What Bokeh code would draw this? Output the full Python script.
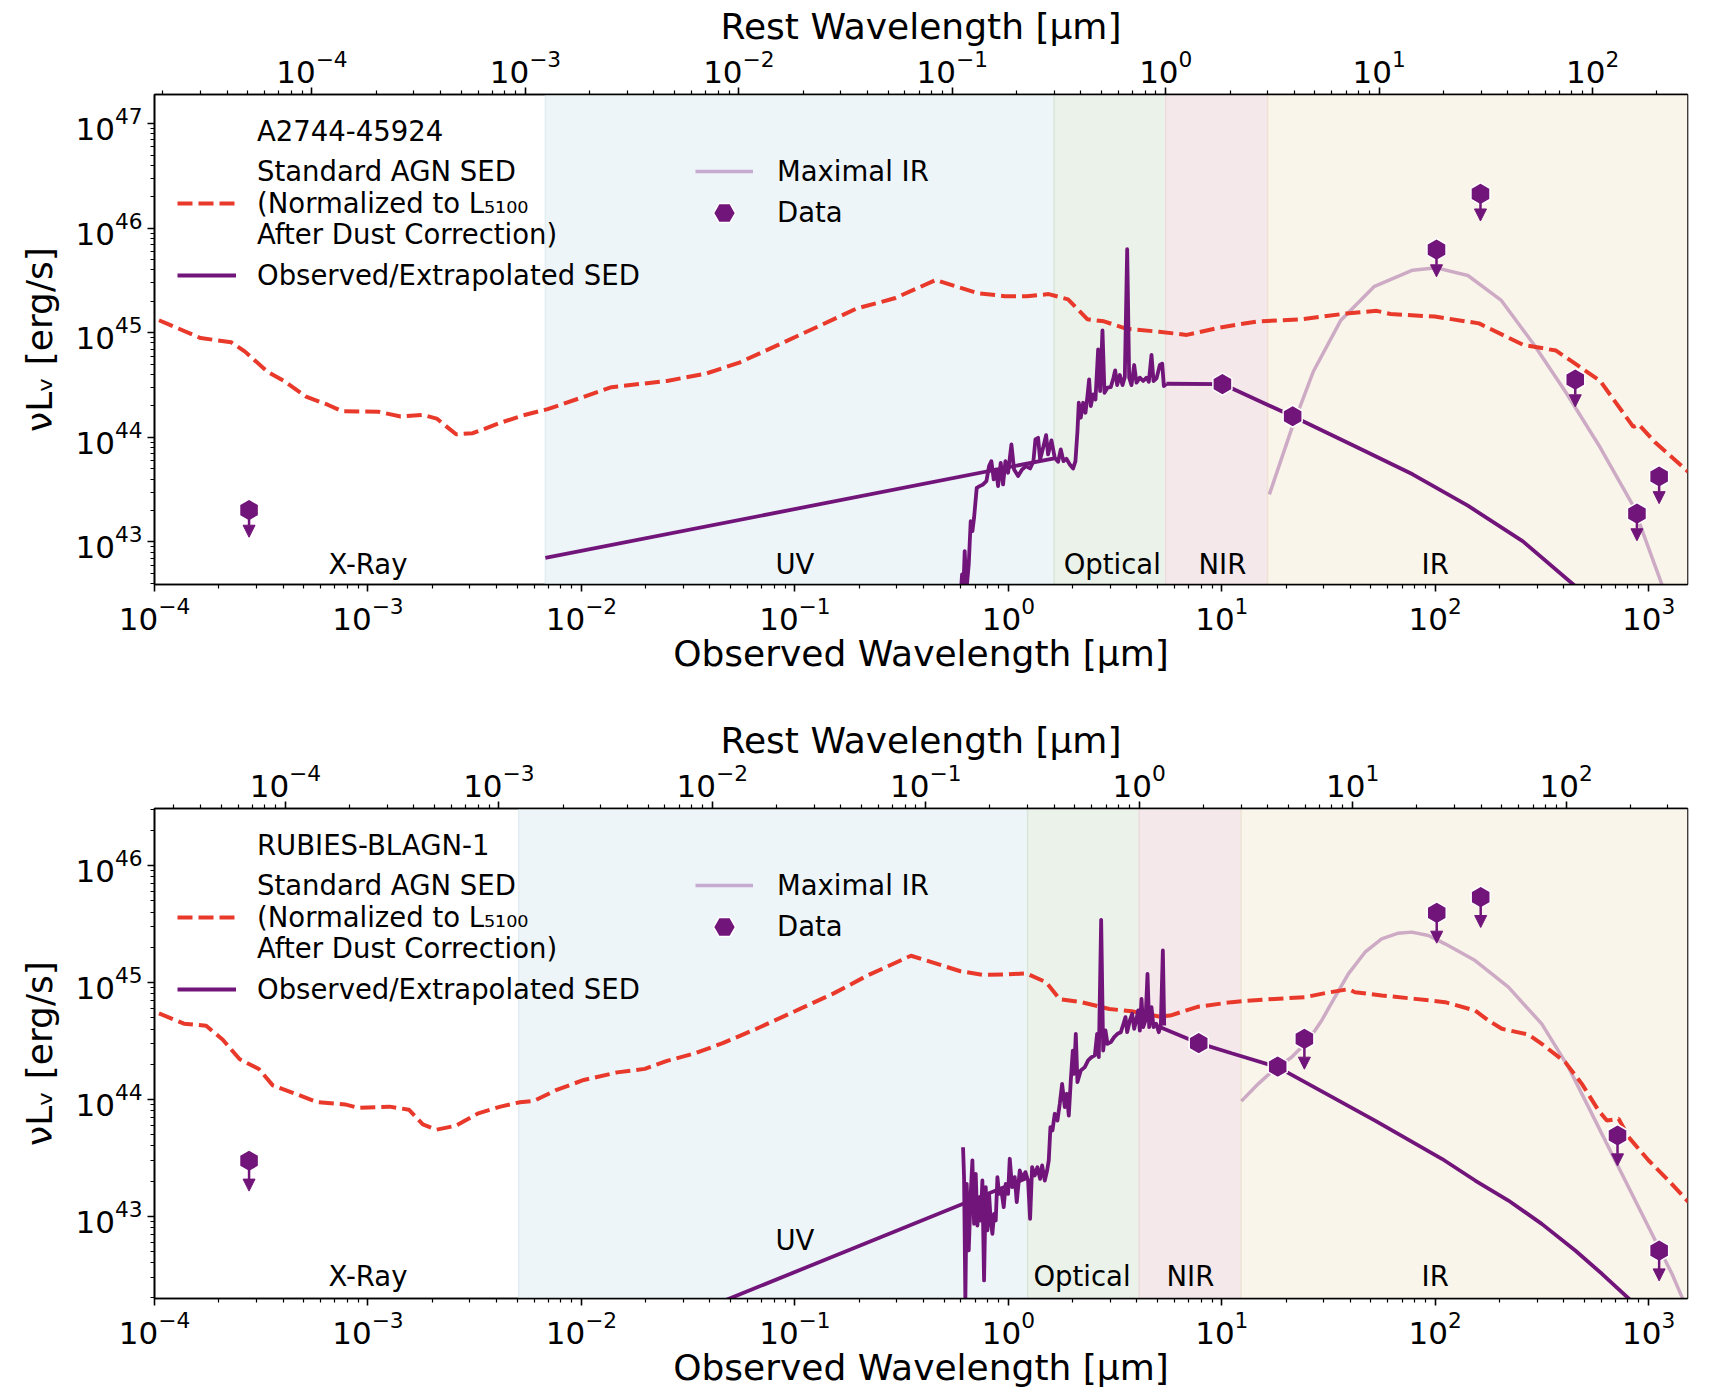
import math
from bokeh.plotting import figure
from bokeh.layouts import column
from bokeh.models import (Range1d, LogScale, LogAxis, FixedTicker, LogTickFormatter,
                          BoxAnnotation, Span, Legend, LegendItem, ColumnDataSource, Arrow, NormalHead)
from bokeh.core.properties import value
from bokeh.embed import file_html
from bokeh.resources import INLINE

# ------------------------------------------------------------------ data
# all series are (log10 observed wavelength [um], log10 nuL_nu [erg/s])
X_RANGE = (1e-4, 1520.0)
X_TICK_EXP = [-4, -3, -2, -1, 0, 1, 2, 3]
REST_TICK_EXP = [-5, -4, -3, -2, -1, 0, 1, 2, 3]
Y_TICK_EXP = [42, 43, 44, 45, 46, 47, 48]
MINOR_MANTISSA = [2, 3, 4, 5, 6, 7, 8, 9]

REGION_NAMES = ["X-Ray", "UV", "Optical", "NIR", "IR"]
REGION_EDGES_REST = [1.24e-3, 0.3, 1.0, 3.0]   # rest-frame um: X-ray|UV|Optical|NIR|IR

# ---- panel A : A2744-45924
A_NAME = "A2744-45924"
A_Z = 4.465
A_Y_RANGE = (3.92e42, 1.9e47)
A_LABEL_LOGX = [-3.0, -1.0, 0.487, 1.003, 2.0]
A_LABEL_LOGY = [42.79, 42.79, 42.79, 42.79, 42.79]
A_AGN = [(-3.979, 45.12), (-3.784, 44.95), (-3.641, 44.91), (-3.576, 44.82), (-3.472, 44.63),
         (-3.394, 44.54), (-3.290, 44.39), (-3.186, 44.31), (-3.120, 44.25), (-2.951, 44.245),
         (-2.847, 44.20), (-2.744, 44.215), (-2.678, 44.18), (-2.587, 44.03), (-2.509, 44.04),
         (-2.379, 44.14), (-2.275, 44.21), (-2.158, 44.27), (-2.015, 44.37), (-1.859, 44.48),
         (-1.599, 44.54), (-1.416, 44.61), (-1.260, 44.715), (-1.078, 44.885), (-0.870, 45.08),
         (-0.714, 45.23), (-0.533, 45.33), (-0.340, 45.505), (-0.146, 45.38), (-0.017, 45.35),
         (0.086, 45.35), (0.189, 45.37), (0.280, 45.32), (0.370, 45.13), (0.448, 45.11),
         (0.551, 45.04), (0.706, 45.01), (0.836, 44.98), (0.990, 45.05), (1.171, 45.11),
         (1.378, 45.13), (1.584, 45.185), (1.726, 45.21), (1.791, 45.18), (1.998, 45.155),
         (2.205, 45.09), (2.411, 44.886), (2.566, 44.83), (2.773, 44.54), (2.928, 44.10),
         (2.953, 44.125), (3.031, 43.95), (3.186, 43.67)]
A_UV = [(-2.169, 42.848), (0.215, 43.80)]
A_SPEC = [(-0.2230, 42.497), (-0.2168, 42.689), (-0.2105, 42.561), (-0.2043, 42.912), (-0.1965, 42.529),
          (-0.1855, 42.784), (-0.1762, 43.199), (-0.1683, 43.103), (-0.1605, 43.231), (-0.1480, 43.518),
          (-0.1340, 43.534), (-0.1183, 43.550), (-0.1027, 43.582), (-0.0902, 43.725), (-0.0793, 43.773),
          (-0.0683, 43.598), (-0.0574, 43.693), (-0.0480, 43.534), (-0.0355, 43.757), (-0.0246, 43.550),
          (-0.0136, 43.773), (-0.0011, 43.662), (0.0145, 43.933), (0.0270, 43.693), (0.0458, 43.630),
          (0.0645, 43.693), (0.0832, 43.725), (0.1020, 43.703), (0.1176, 43.773), (0.1270, 43.980),
          (0.1395, 43.996), (0.1489, 43.789), (0.1630, 43.901), (0.1770, 44.022), (0.1864, 43.837),
          (0.2020, 43.971), (0.2176, 43.805), (0.2333, 43.767), (0.2458, 43.885), (0.2583, 43.773),
          (0.2723, 43.795), (0.2880, 43.741), (0.3036, 43.703), (0.3145, 43.773), (0.3239, 44.060),
          (0.3302, 44.331), (0.3395, 44.188), (0.3505, 44.331), (0.3614, 44.236), (0.3708, 44.395),
          (0.3786, 44.555), (0.3864, 44.300), (0.3974, 44.411), (0.4083, 44.363), (0.4208, 44.842),
          (0.4302, 44.443), (0.4411, 45.023), (0.4505, 44.427), (0.4646, 44.475), (0.4802, 44.481),
          (0.4927, 44.571), (0.5005, 44.641), (0.5099, 44.500), (0.5224, 44.596), (0.5349, 44.500),
          (0.5458, 44.577), (0.5568, 45.799), (0.5662, 44.571), (0.5771, 44.500), (0.5896, 44.692),
          (0.6005, 44.523), (0.6161, 44.571), (0.6318, 44.539), (0.6474, 44.571), (0.6583, 44.532),
          (0.6708, 44.788), (0.6802, 44.539), (0.6943, 44.564), (0.7099, 44.692), (0.7209, 44.704),
          (0.7287, 44.491), (0.7412, 44.513)]
A_EXT = [(0.741, 44.513), (1.003, 44.51), (1.332, 44.202), (1.636, 43.903), (1.894, 43.647),
         (2.153, 43.347), (2.411, 43.006), (2.643, 42.60), (2.75, 42.41)]
A_MAXIR = [(1.223, 43.455), (1.326, 44.074), (1.429, 44.63), (1.558, 45.121), (1.713, 45.441),
           (1.894, 45.599), (2.006, 45.621), (2.153, 45.548), (2.308, 45.313), (2.463, 44.886),
           (2.617, 44.415), (2.773, 43.903), (2.927, 43.347), (3.057, 42.621), (3.085, 42.45)]
A_DET = [(1.003, 44.51), (1.332, 44.202)]
A_UL = [(-3.557, 43.305), (2.006, 45.795), (2.212, 46.329), (2.656, 44.552), (2.945, 43.271),
        (3.049, 43.626)]

# ---- panel B : RUBIES-BLAGN-1
B_NAME = "RUBIES-BLAGN-1"
B_Z = 3.1034
B_Y_RANGE = (1.98e42, 3.08e46)
B_LABEL_LOGX = [-3.0, -1.0, 0.345, 0.853, 2.0]
B_LABEL_LOGY = [42.49, 42.80, 42.49, 42.49, 42.49]
B_AGN = [(-3.979, 44.736), (-3.862, 44.648), (-3.758, 44.63), (-3.680, 44.51), (-3.602, 44.345),
         (-3.511, 44.26), (-3.446, 44.12), (-3.342, 44.05), (-3.238, 43.976), (-3.107, 43.957),
         (-3.043, 43.927), (-2.899, 43.938), (-2.808, 43.912), (-2.743, 43.786), (-2.678, 43.741),
         (-2.587, 43.775), (-2.483, 43.881), (-2.379, 43.938), (-2.288, 43.976), (-2.223, 43.987),
         (-2.119, 44.079), (-1.989, 44.166), (-1.833, 44.231), (-1.703, 44.261), (-1.599, 44.329),
         (-1.469, 44.394), (-1.338, 44.481), (-1.182, 44.602), (-1.000, 44.754), (-0.818, 44.907),
         (-0.662, 45.058), (-0.456, 45.229), (-0.224, 45.096), (-0.120, 45.066), (-0.017, 45.069),
         (0.086, 45.077), (0.177, 45.002), (0.241, 44.857), (0.345, 44.831), (0.474, 44.773),
         (0.578, 44.754), (0.706, 44.709), (0.758, 44.717), (0.887, 44.792), (1.046, 44.832),
         (1.202, 44.855), (1.390, 44.874), (1.484, 44.909), (1.593, 44.943), (1.624, 44.917),
         (1.749, 44.889), (1.905, 44.860), (2.046, 44.832), (2.187, 44.760), (2.249, 44.675),
         (2.312, 44.604), (2.437, 44.555), (2.499, 44.475), (2.609, 44.319), (2.687, 44.133),
         (2.765, 43.905), (2.804, 43.819), (2.859, 43.834), (2.906, 43.677), (3.000, 43.477),
         (3.093, 43.306), (3.187, 43.121)]
B_UV = [(-1.45, 42.19), (0.090, 43.33)]
B_SPEC = [(-0.2121, 43.591), (-0.2074, 43.335), (-0.2012, 42.280), (-0.1949, 43.278), (-0.1855, 42.708),
          (-0.1762, 43.192), (-0.1683, 43.478), (-0.1605, 42.936), (-0.1527, 43.363), (-0.1449, 42.921),
          (-0.1371, 43.135), (-0.1293, 42.964), (-0.1215, 43.306), (-0.1137, 42.451), (-0.1058, 43.249),
          (-0.0980, 42.879), (-0.0902, 43.192), (-0.0824, 42.964), (-0.0746, 42.850), (-0.0668, 43.021),
          (-0.0590, 42.964), (-0.0511, 43.335), (-0.0433, 43.192), (-0.0324, 43.221), (-0.0215, 43.078),
          (-0.0121, 43.278), (-0.0011, 43.192), (0.0067, 43.492), (0.0176, 43.249), (0.0301, 43.335),
          (0.0395, 43.121), (0.0536, 43.392), (0.0661, 43.320), (0.0801, 43.378), (0.0926, 43.306),
          (0.1020, 42.978), (0.1114, 43.420), (0.1239, 43.349), (0.1364, 43.420), (0.1489, 43.320),
          (0.1583, 43.435), (0.1708, 43.306), (0.1817, 43.392), (0.1895, 43.478), (0.1973, 43.763),
          (0.2067, 43.734), (0.2176, 43.877), (0.2301, 43.820), (0.2411, 43.962), (0.2520, 44.133),
          (0.2645, 43.934), (0.2739, 44.048), (0.2833, 43.862), (0.2927, 44.162), (0.3020, 44.418),
          (0.3083, 44.219), (0.3161, 44.561), (0.3239, 44.148), (0.3395, 44.247), (0.3583, 44.276),
          (0.3739, 44.333), (0.3896, 44.361), (0.4052, 44.376), (0.4161, 44.561), (0.4239, 44.361),
          (0.4349, 45.536), (0.4443, 44.418), (0.4552, 44.590), (0.4646, 44.475), (0.4802, 44.490),
          (0.4958, 44.533), (0.5114, 44.561), (0.5271, 44.575), (0.5396, 44.647), (0.5490, 44.704),
          (0.5568, 44.575), (0.5693, 44.675), (0.5802, 44.732), (0.5896, 44.604), (0.6005, 44.689),
          (0.6083, 44.761), (0.6161, 44.589), (0.6240, 44.860), (0.6318, 44.618), (0.6427, 44.675),
          (0.6521, 45.074), (0.6599, 44.618), (0.6708, 44.789), (0.6802, 44.618), (0.6927, 44.647),
          (0.7052, 44.575), (0.7146, 44.647), (0.7240, 45.274), (0.7303, 44.632)]
B_EXT = [(0.706, 44.622), (0.892, 44.481), (1.046, 44.395), (1.262, 44.276), (1.718, 43.819),
         (2.031, 43.492), (2.187, 43.306), (2.343, 43.135), (2.499, 42.935), (2.656, 42.707),
         (2.781, 42.508), (2.906, 42.297), (2.96, 42.20)]
B_MAXIR = [(1.092, 43.985), (1.171, 44.133), (1.249, 44.262), (1.327, 44.361), (1.405, 44.504),
           (1.468, 44.675), (1.530, 44.875), (1.593, 45.074), (1.671, 45.259), (1.749, 45.373),
           (1.827, 45.422), (1.890, 45.431), (1.968, 45.402), (2.046, 45.331), (2.187, 45.188),
           (2.343, 44.960), (2.499, 44.646), (2.624, 44.276), (2.734, 43.876), (2.843, 43.477),
           (2.937, 43.135), (3.031, 42.793), (3.109, 42.508), (3.156, 42.308), (3.175, 42.22)]
B_DET = [(0.892, 44.481), (1.262, 44.281)]
B_UL = [(-3.557, 43.475), (1.387, 44.518), (2.007, 45.596), (2.213, 45.730), (2.854, 43.691),
        (3.049, 42.707)]

# ------------------------------------------------------------------ style
FONT = "DejaVu Sans"
PURPLE = "#72157a"
RED = "#e8392b"
LIGHT_ALPHA = 0.33
REGION_FILLS = ["#eef5f9", "#ebf2ea", "#f4e8ea", "#faf5eb"]
REGION_EDGE_COLORS = ["#e2edf2", "#dbe5d9", "#ecdcdf", "#efe4d3"]
ARROW_FRAC = 0.55
FRAME_H = 490
LEG_FONT = "27.5px"


def unzip(pairs):
    return [10 ** a for a, _ in pairs], [10 ** b for _, b in pairs]


def ticker(exps):
    return FixedTicker(ticks=[10.0 ** e for e in exps],
                       minor_ticks=[m * 10.0 ** e for e in exps for m in MINOR_MANTISSA])


def style_axis(ax, label_standoff):
    ax.axis_line_width = 1.6
    ax.axis_line_color = "black"
    ax.major_tick_line_width = 1.6
    ax.minor_tick_line_width = 1.2
    ax.major_tick_line_color = "black"
    ax.minor_tick_line_color = "black"
    ax.major_tick_out = 7
    ax.major_tick_in = 0
    ax.minor_tick_out = 4
    ax.minor_tick_in = 0
    ax.major_label_standoff = 5
    ax.major_label_text_font = FONT
    ax.major_label_text_font_size = "31px"
    ax.major_label_text_color = "black"
    ax.axis_label_text_font = FONT
    ax.axis_label_text_font_size = "36px"
    ax.axis_label_text_font_style = "normal"
    ax.axis_label_text_color = "black"
    ax.axis_label_standoff = label_standoff
    ax.formatter = LogTickFormatter()


def legend_row(p, label, renderer, x, center, glyph_w, standoff, gh):
    leg = Legend(items=[LegendItem(label=value(label), renderers=[renderer])],
                 location=(x, FRAME_H - center - gh / 2),
                 padding=0, margin=0, spacing=0,
                 glyph_width=glyph_w, glyph_height=gh, label_height=gh, label_width=10,
                 label_standoff=standoff,
                 label_text_font=FONT, label_text_font_size=LEG_FONT, label_text_color="black",
                 border_line_alpha=0, background_fill_alpha=0)
    p.add_layout(leg)


def make_panel(name, z, y_range, label_logx, label_logy, agn, uv, spec, ext, maxir, det, ul,
               border_top, border_bottom):
    p = figure(width=1724, height=698, x_axis_type="log", y_axis_type="log",
               x_range=Range1d(*X_RANGE), y_range=Range1d(*y_range),
               output_backend="svg", toolbar_location=None,
               min_border_left=154, min_border_right=37,
               min_border_top=border_top, min_border_bottom=border_bottom,
               background_fill_color="white", border_fill_color="white")
    p.xgrid.visible = False
    p.ygrid.visible = False
    p.outline_line_color = "black"
    p.outline_line_width = 1.6
    p.outline_line_alpha = 1.0

    # axes
    xa = p.xaxis[0]
    xa.ticker = ticker(X_TICK_EXP)
    xa.axis_label = "Observed Wavelength [μm]"
    style_axis(xa, 0)
    ya = p.yaxis[0]
    ya.ticker = ticker(Y_TICK_EXP)
    ya.axis_label = "νLᵥ [erg/s]"
    style_axis(ya, 12)

    p.extra_x_ranges = {"rest": Range1d(X_RANGE[0] / (1 + z), X_RANGE[1] / (1 + z))}
    p.extra_x_scales = {"rest": LogScale()}
    ta = LogAxis(x_range_name="rest", axis_label="Rest Wavelength [μm]")
    ta.ticker = ticker(REST_TICK_EXP)
    style_axis(ta, 0)
    p.add_layout(ta, "above")

    # wavelength regions
    edges = [e * (1 + z) for e in REGION_EDGES_REST] + [None]
    for i in range(4):
        kw = dict(left=edges[i], fill_color=REGION_FILLS[i], fill_alpha=1.0,
                  line_alpha=0, level="underlay")
        if edges[i + 1] is not None:
            kw["right"] = edges[i + 1]
        p.add_layout(BoxAnnotation(**kw))
        p.add_layout(Span(location=edges[i], dimension="height", line_color=REGION_EDGE_COLORS[i],
                          line_width=1.5, level="underlay"))

    p.text(x=[10 ** v for v in label_logx], y=[10 ** v for v in label_logy], text=REGION_NAMES,
           text_align="center", text_baseline="middle", text_font=value(FONT),
           text_font_size="27.5px", text_color="black")

    mx, my = unzip(maxir)
    r_maxir = p.line(mx, my, line_color=PURPLE, line_alpha=LIGHT_ALPHA, line_width=3.5)
    ax_, ay_ = unzip(agn)
    r_agn = p.line(ax_, ay_, line_color=RED, line_width=4, line_dash="15 6")
    ux, uy = unzip(uv)
    r_sed = p.line(ux, uy, line_color=PURPLE, line_width=3.8)
    ex, ey = unzip(ext)
    p.line(ex, ey, line_color=PURPLE, line_width=3.8)
    sx, sy = unzip(spec)
    p.line(sx, sy, line_color=PURPLE, line_width=3.8, line_join="round")

    dx, dy = unzip(det)
    lx, ly = unzip(ul)
    src = ColumnDataSource(dict(x=lx, y=ly, yt=[v * ARROW_FRAC for v in ly]))
    r_data = p.scatter(dx + lx, dy + ly, marker="hex", size=22, angle=math.radians(30),
                       fill_color=PURPLE, line_color="white", line_width=1.5)
    p.add_layout(Arrow(end=NormalHead(size=12, fill_color=PURPLE, line_color=PURPLE, line_width=1),
                       x_start="x", y_start="y", x_end="x", y_end="yt", source=src,
                       line_color=PURPLE, line_width=2.5))

    # legend (two columns, laid out row by row)
    blank = p.line(x=[], y=[], line_alpha=0)
    left_rows = [(name, blank, 37.3), ("Standard AGN SED", blank, 77.3),
                 ("(Normalized to L₅₁₀₀", r_agn, 109.0), ("After Dust Correction)", blank, 139.7),
                 ("Observed/Extrapolated SED", r_sed, 180.5)]
    for text, rend, c in left_rows:
        legend_row(p, text, rend, 23, c, 59, 21, 32)
    legend_row(p, "Maximal IR", r_maxir, 541, 77.0, 58, 24, 32)
    legend_row(p, "Data", r_data, 541, 118.0, 58, 24, 55)
    return p


p1 = make_panel(A_NAME, A_Z, A_Y_RANGE, A_LABEL_LOGX, A_LABEL_LOGY, A_AGN, A_UV, A_SPEC, A_EXT,
                A_MAXIR, A_DET, A_UL, 94, 114)
p2 = make_panel(B_NAME, B_Z, B_Y_RANGE, B_LABEL_LOGX, B_LABEL_LOGY, B_AGN, B_UV, B_SPEC, B_EXT,
                B_MAXIR, B_DET, B_UL, 110, 98)

layout = column(p1, p2, spacing=0)
open("out.html", "w").write(file_html(layout, INLINE))
